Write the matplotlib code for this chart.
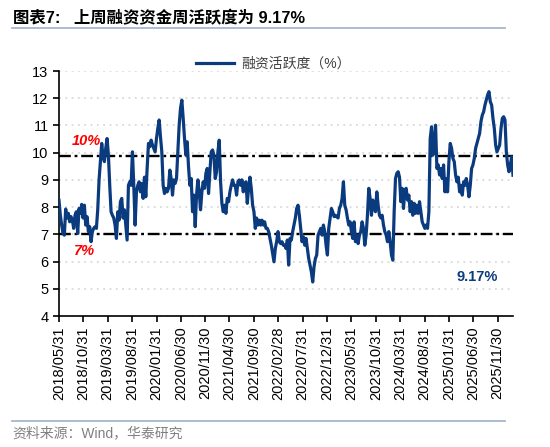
import matplotlib
matplotlib.use('Agg')
import matplotlib.pyplot as plt
import pandas as pd
from matplotlib.lines import Line2D

plt.rcParams['font.family'] = ['Liberation Sans', 'Noto Sans CJK SC']

# Weekly financing activity (%), in four consecutive stretches
seg_2018_2020 = [8.25, 7.7, 7.34, 7.03, 6.97, 7.93, 7.6, 7.77, 7.46, 7.65, 7.52, 7.22, 7.7, 7.83, 7.03,
                 7.95, 7.77, 8.1, 7.6, 8.07, 7.34, 7.65, 7.1, 7.28, 6.73, 7.1, 7.22, 7.28, 7.22, 7.9,
                 9.0, 9.67, 10.34, 9.85, 9.67, 10.16, 10.52, 9.91, 8.8, 7.83, 7.7, 7.6, 7.34, 6.85,
                 7.83, 7.52, 8.2, 8.32, 7.6, 7.9, 7.34, 6.79, 8.8, 8.93, 8.8, 10.03, 8.8, 7.34, 8.56,
                 8.8, 8.93, 8.56, 8.87, 8.32, 9.1, 8.38, 9.42, 10.34, 10.22, 10.46, 10.28, 10.16,
                 10.03, 10.52, 10.89, 11.2, 10.58, 10.03, 8.8, 8.5, 8.69, 8.56, 8.69, 9.36, 9.05, 8.44]
seg_2020_2022 = [9.0, 8.87, 9.05, 10.03, 11.01, 11.63, 11.93, 11.26, 10.52, 9.91, 10.4, 9.48, 8.8, 9.05,
                 7.83, 8.44, 7.28, 8.44, 9.0, 8.56, 7.9, 8.56, 8.93, 8.69, 9.24, 9.42, 8.5, 9.3, 10.03,
                 10.1, 9.91, 9.05, 9.3, 10.03, 10.46, 8.93, 8.14, 7.83, 8.07, 7.77, 8.32, 8.2, 8.56,
                 8.8, 9.0, 8.8, 8.8, 8.44, 8.93, 9.0, 8.8, 9.0, 8.56, 8.87, 8.93, 8.14, 8.69, 9.1,
                 8.69, 8.07, 7.83, 7.22, 7.6, 7.34, 7.52, 7.34, 7.52, 7.34, 7.46, 7.22, 7.22, 7.1,
                 6.85, 6.6, 6.3, 5.99, 6.48, 6.73, 7.1, 6.73, 6.66, 6.73, 6.6, 6.6, 6.48, 6.79, 5.87]
seg_2022_2024 = [6.85, 6.79, 7.1, 7.34, 7.6, 7.95, 8.07, 7.7, 7.22, 6.73, 6.91, 6.6, 6.85, 6.48, 6.11,
                 5.87, 5.62, 5.25, 5.81, 6.11, 6.24, 6.97, 7.1, 7.22, 6.97, 7.34, 7.1, 6.6, 6.24, 7.22,
                 7.6, 7.95, 7.83, 7.65, 7.7, 7.65, 7.6, 7.95, 8.07, 8.32, 8.93, 8.07, 7.9, 7.6, 7.34,
                 7.46, 7.1, 6.85, 7.46, 6.73, 6.97, 6.66, 6.97, 7.1, 7.46, 7.22, 6.6, 6.97, 7.7, 8.69,
                 8.32, 7.7, 8.26, 8.07, 7.83, 8.56, 8.07, 7.7, 7.6, 7.7, 7.34, 7.1, 6.97, 6.73, 7.1,
                 6.73, 6.24, 6.05, 7.83, 9.05, 9.24, 9.3, 9.1, 8.2, 8.69, 7.95]
seg_2024_2026 = [8.62, 8.69, 8.26, 8.44, 7.83, 8.2, 7.7, 8.14, 7.77, 8.07, 7.77, 8.2, 7.83, 7.46, 7.34,
                 7.22, 7.34, 7.22, 7.83, 10.52, 10.95, 9.91, 10.28, 11.01, 9.42, 9.55, 9.18, 9.42,
                 9.05, 9.55, 8.56, 9.05, 8.56, 9.67, 10.34, 10.16, 9.79, 9.67, 9.18, 8.93, 9.1, 8.56,
                 8.8, 8.44, 8.93, 8.8, 9.05, 8.8, 8.38, 8.8, 9.42, 9.55, 9.79, 10.16, 10.34, 10.52,
                 10.71, 11.14, 11.38, 11.5, 11.75, 11.93, 12.12, 12.24, 11.87, 11.75, 11.26, 10.89,
                 10.28, 10.03, 10.16, 10.28, 10.89, 11.26, 11.32, 11.2, 10.03, 9.55, 9.3, 9.55, 9.85,
                 9.17]
activity = seg_2018_2020 + seg_2020_2022 + seg_2022_2024 + seg_2024_2026

start_date = '2018-05-31'
end_date = '2026-03-06'
upper_ref = 9.87
lower_ref = 7.0
upper_label = '10%'
lower_label = '7%'
last_label = '9.17%'
series_name = '融资活跃度（%）'
tick_labels = ['2018/05/31', '2018/10/31', '2019/03/31', '2019/08/31', '2020/01/31', '2020/06/30',
               '2020/11/30', '2021/04/30', '2021/09/30', '2022/02/28', '2022/07/31', '2022/12/31',
               '2023/05/31', '2023/10/31', '2024/03/31', '2024/08/31', '2025/01/31', '2025/06/30',
               '2025/11/30']
y_ticks = list(range(4, 14))

dates = pd.date_range(start_date, end_date, periods=len(activity))
tick_dates = pd.to_datetime(tick_labels, format='%Y/%m/%d')

W, H = 550, 447
fig = plt.figure(figsize=(W / 100, H / 100), dpi=100)
ax = fig.add_axes([59 / W, 1 - 316 / H, (513 - 59) / W, (316 - 71) / H])

line_color = '#0b3b7f'
ax.plot(dates, activity, color=line_color, lw=2.3, solid_joinstyle='round', zorder=3)
ax.axhline(upper_ref, color='black', lw=1.7, dashes=(5, 1.6, 1.2, 1.6), zorder=2)
ax.axhline(lower_ref, color='black', lw=1.7, dashes=(5, 1.6, 1.2, 1.6), zorder=2)

ax.set_ylim(4, 13)
ax.set_yticks(y_ticks)
ax.set_xlim(dates[0], dates[-1])
ax.set_xticks(tick_dates)
ax.set_xticklabels(tick_labels, rotation=90, fontsize=10.5)
ax.tick_params(axis='y', labelsize=10.5)
ax.tick_params(direction='out', length=4, width=1.2, colors='black')
ax.yaxis.grid(True, color='#d9d9d9', lw=1.3, ls=(0, (1, 2.5)), zorder=0)
ax.set_axisbelow(True)
for s in ['top', 'right']:
    ax.spines[s].set_visible(False)
for s in ['left', 'bottom']:
    ax.spines[s].set_linewidth(1.2)

ax.text(0.06, 0.714, upper_label, transform=ax.transAxes, color='#ff0000', fontsize=10.5,
        fontweight='bold', fontstyle='italic', ha='center', va='center')
ax.text(0.056, 0.264, lower_label, transform=ax.transAxes, color='#ff0000', fontsize=10.5,
        fontweight='bold', fontstyle='italic', ha='center', va='center')
ax.text(0.921, 0.159, last_label, transform=ax.transAxes, color=line_color, fontsize=10.5,
        fontweight='bold', ha='center', va='center')

handle = Line2D([], [], color=line_color, lw=2.3)
leg = fig.legend([handle], [series_name], loc='center', bbox_to_anchor=(0.497, 1 - 64 / H),
                 frameon=False, fontsize=10, handlelength=2.7, handletextpad=0.5)
for t in leg.get_texts():
    t.set_color('#404040')

fig.text(13 / W, 1 - 18 / H, '图表7:   上周融资资金周活跃度为 9.17%', fontsize=11.8,
         fontweight='bold', va='center', ha='left')
fig.add_artist(Line2D([12 / W, 505 / W], [1 - 28 / H] * 2, color='#a6b8cc', lw=1.3))
fig.add_artist(Line2D([12 / W, 505 / W], [1 - 421 / H] * 2, color='#a6b8cc', lw=1.3))
fig.text(12 / W, 1 - 433 / H, '资料来源：Wind，华泰研究', fontsize=10, color='#808080',
         va='center', ha='left')

fig.savefig('out.png', dpi=100)
